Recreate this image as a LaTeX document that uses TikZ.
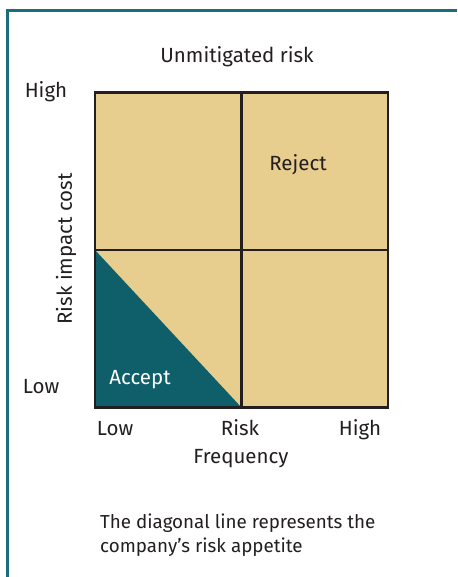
\documentclass[tikz,border=0pt]{standalone}
\usepackage{fontspec}
\setmainfont{Fira Sans}
\definecolor{frameteal}{HTML}{1B6D7A}
\definecolor{acceptteal}{HTML}{0F5F6B}
\definecolor{tan}{HTML}{E8CE8E}
\definecolor{gridblack}{HTML}{231F20}

\begin{document}
\begin{tikzpicture}[x=1pt, y=-1pt, {every node/.append style}={inner sep=0pt, font=\fontsize{20.5}{25}\selectfont, text=gridblack}]

\useasboundingbox (0, 0) rectangle (457, 577);
\draw [line width=2.4, draw=frameteal] (7.5, 577) -- (7.5, 10.5) -- (457, 10.5);

%\coordinate (M) at (241.5, 250);
\coordinate (TL) at (95, 92.5);
\coordinate (TM) at (241.5, 92.5);
\coordinate (TR) at (388, 92.5);
\coordinate (ML) at (95, 250);
\coordinate (MR) at (388, 250);
\coordinate (BL) at (95, 407.5);
\coordinate (BM) at (241.5, 407.5);
\coordinate (BR) at (388, 407.5);

\fill [tan] (TL) rectangle (BR);
\fill [acceptteal] (ML) -- (BM) -- (BL) -- cycle;
\draw [line width=2.8, draw=gridblack] (TL) rectangle (BR);
\draw [line width=2.8, draw=gridblack] (TM) to (BM);
\draw [line width=2.8, draw=gridblack] (ML) to (MR);

\node [rectangle] (title) at (237, 57) {Unmitigated risk};
\node [rectangle] (yhigh) at (46, 92) {High};
\node [rectangle] (ylow) at (41, 387) {Low};
\node [rectangle, rotate=90] (ylabel) at (66, 249) {Risk impact cost};
\node [rectangle] (reject) at (298, 165) {Reject};
\node [rectangle, text=white] (accept) at (140, 380) {Accept};
\node [rectangle, anchor=base] (xlow) at (115, 435) {Low};
\node [rectangle, anchor=base] (xrisk) at (240, 435) {Risk};
\node [rectangle, anchor=base] (xhigh) at (360, 435) {High};
\node [rectangle] (xlabel) at (241, 459) {Frequency};
\node [rectangle, align=left, anchor=west, font=\fontsize{18.8}{24}\selectfont] (note) at (100, 535) {The diagonal line represents the\\company’s risk appetite};

\end{tikzpicture}
\end{document}
